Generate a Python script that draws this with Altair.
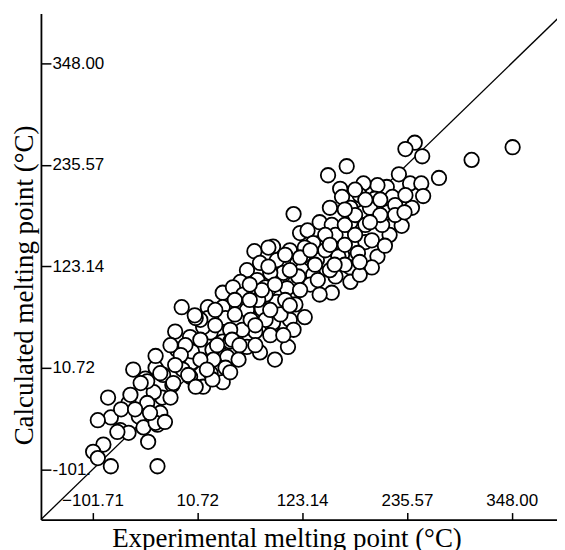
import altair as alt
import pandas as pd

# Experimental vs calculated melting points (°C)
exp_mp = [349, 305, 270, 244, 234, 252, 227, 239, 251, 253, 217, 214, 241, 215, 230, 217, 209,
          171, 151, 114, 204, 189, 164, 166, 185, 201, 220, 153, 175, 189, 196, 142, 155, 182,
          175, 121, 129, 142, 135, 164, 166, 191, 126, 110, 92, 72, 87, 150, 166, 183, 204, 198,
          175, 162, 96, 118, 139, 78, 103, 123, 135, 159, 175, 185, 64, 89, 87, 119, 132, 57,
          75, 84, 107, 155, 142, 38, 49, 60, 96, 116, 126, 110, -6, 22, 38, 22, 41, 64, 80, 91,
          73, 59, 114, -13, 3, 25, 38, 64, 108, 94, 78, 43, 27, -11, 3, 38, 17, -26, -16, -34,
          5, 92, 28, -5, 25, 41, 5, 17, -58, -45, -29, -15, 1, 9, 27, -27, -36, -43, -85, -63,
          -52, -82, -96, -72, -63, -47, -32, -42, -90, -101, -96, -82, -32, -18, -29, -34, -43,
          -24, -75, 51, 68, 84, 100, 46, 30, 14, -2, 14, 55, 73, 89, 105, 121, 137, 148, 159,
          169, 180, 191, 207, 223, 234, -71, -61, -7, 76, 9, 46, 84, 103, 153, 169, 185,
          8, 30, 51, 48, 14, 67, 80, 67, 94, 110, 121, 105, 132, 148, 153, 169, 158, 140,
          110, 89, 73, 56, 32, 21, 46, -13, -18, -34, -50, -56, -40, 180, 198, 212, 223, 196,
          169, 207, 191, 233, 180]
calc_mp = [255, 241, 221, 260, 253, 245, 225, 215, 215, 201, 198, 211, 188, 183, 168, 158, 169,
           234, 224, 181, 213, 215, 209, 200, 202, 198, 200, 188, 188, 183, 188, 172, 169, 167,
           172, 160, 163, 149, 149, 149, 156, 150, 144, 141, 145, 140, 144, 128, 136, 138, 134,
           122, 122, 134, 130, 127, 130, 127, 116, 119, 114, 112, 106, 114, 119, 116, 123, 112,
           103, 106, 108, 100, 99, 94, 92, 94, 100, 92, 84, 81, 67, 64, 78, 78, 78, 66, 66, 75,
           76, 58, 51, 53, 53, 51, 45, 50, 40, 34, 34, 20, 28, 23, 31, 31, 1, -5, -10, 3, -8, 11,
           17, 61, 20, 9, 5, 11, 29, 56, 9, -1, 5, -6, 3, -10, -2, -22, -16, -28, -22, -28,
           -43, -44, -47, -58, -61, -55, -52, -71, -74, -82, -89, -98, -98, -22, -39, -50, -4,
           -49, -60, 86, 64, 92, 70, 53, 75, 64, 36, 20, 20, 36, 47, 86, 97, 125, 141, 158,
           169, 180, 169, 180, 191, 202, -35, -19, 25, 86, 66, 40, 64, 47, 119, 125, 128,
           69, 58, 70, 42, 42, 86, 97, 103, 103, 119, 133, 136, 141, 158, 147, 147, 125, 108,
           80, 75, 58, 36, 36, 9, 6, 14, 36, 24, -6, -35, -39, 158, 152, 146, 180, 172,
           186, 197, 197, 183, 208]

tick_values = [-101.71, 10.72, 123.14, 235.57, 348.00]
diag = [-157, 404]
x_domain = [-157, 396.6]
y_domain = [-157, 403]

W, H = 517, 507

pts = pd.DataFrame({"exp": exp_mp, "calc": calc_mp})
line_df = pd.DataFrame({"exp": diag, "calc": diag})

xscale = alt.Scale(domain=x_domain, nice=False, zero=False)
yscale = alt.Scale(domain=y_domain, nice=False, zero=False)

title_font = "Liberation Serif"
label_font = "Liberation Sans"

line = alt.Chart(line_df).mark_line(color="black", strokeWidth=1.3, clip=True).encode(
    x=alt.X("exp:Q", scale=xscale,
            axis=alt.Axis(orient="bottom", title="Experimental melting point (°C)",
                          labels=False, ticks=False, grid=False, domain=True,
                          domainColor="black", domainWidth=1.8,
                          titleFont=title_font, titleFontSize=27, titleFontWeight="normal",
                          titleColor="black", titlePadding=6, titleX=246)),
    y=alt.Y("calc:Q", scale=yscale,
            axis=alt.Axis(orient="left", title="Calculated melting point (°C)",
                          labels=False, ticks=False, grid=False, domain=True,
                          domainColor="black", domainWidth=1.8,
                          titleFont=title_font, titleFontSize=27, titleFontWeight="normal",
                          titleColor="black", titlePadding=2, titleY=272)),
)

points = alt.Chart(pts).mark_circle(size=210, fill="white", stroke="black",
                                    strokeWidth=1.8, opacity=1).encode(
    x=alt.X("exp:Q", scale=xscale,
            axis=alt.Axis(orient="top", offset=-H, values=tick_values, format=".2f",
                          title="", domain=False, grid=False, ticks=True, tickSize=7,
                          tickColor="black", tickWidth=1.5,
                          labelFont=label_font, labelFontSize=17, labelColor="black",
                          labelPadding=3, labelFlush=False, labelOverlap=False)),
    y=alt.Y("calc:Q", scale=yscale,
            axis=alt.Axis(orient="right", offset=-W, values=tick_values,
                          labelExpr="datum.value < -100 ? '-101.' : format(datum.value, '.2f')",
                          title="", domain=False, grid=False, ticks=True, tickSize=10,
                          tickColor="black", tickWidth=1.5,
                          labelFont=label_font, labelFontSize=17, labelColor="black",
                          labelPadding=1, labelFlush=False, labelOverlap=False)),
)

chart = alt.layer(line, points).resolve_axis(x="independent", y="independent").properties(
    width=W, height=H, padding={"left": 3, "top": 5, "right": 0, "bottom": 0},
    background="white",
).configure_view(strokeWidth=0)

chart.save("out.html", embed_options={"renderer": "svg", "actions": False})
